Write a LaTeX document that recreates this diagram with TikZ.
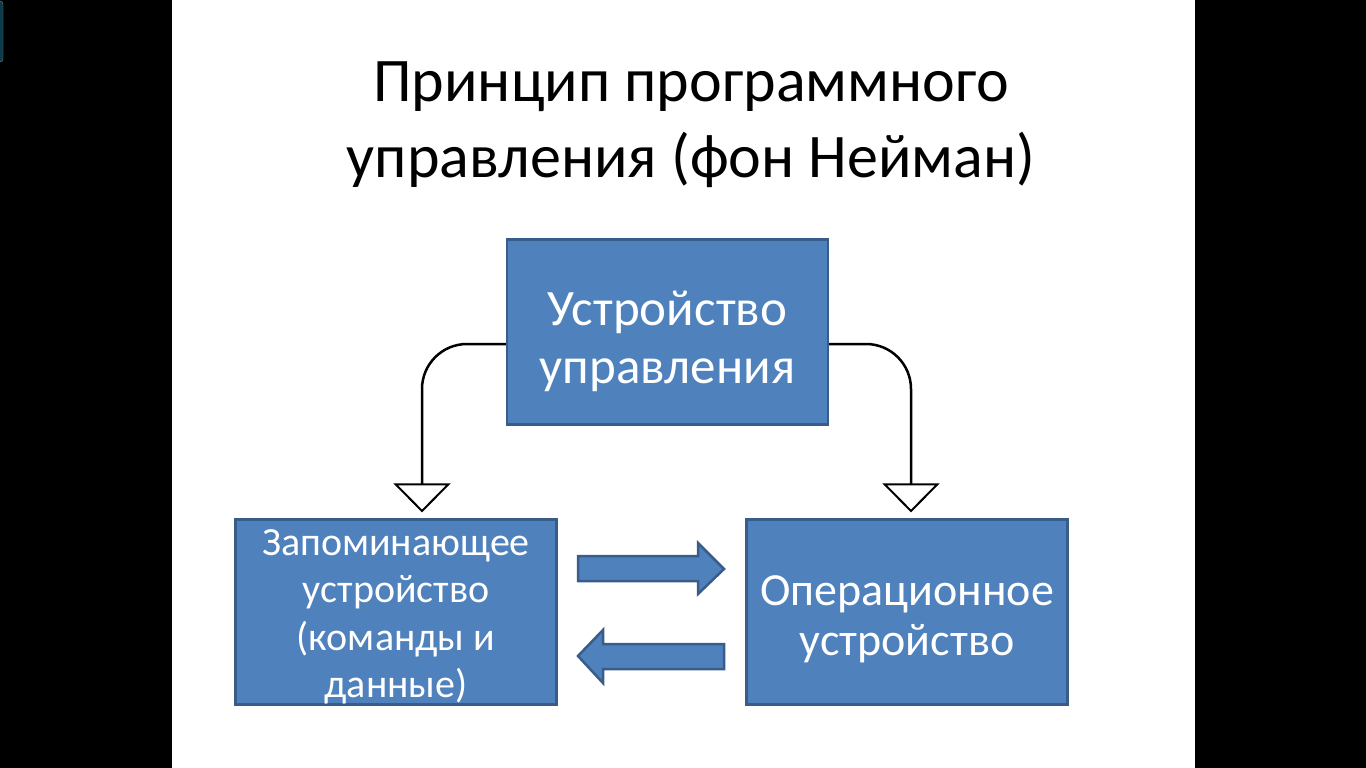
\documentclass[tikz,border=0pt]{standalone}
\usepackage{fontspec}
\setmainfont{Carlito}
\usetikzlibrary{arrows.meta,positioning}
\definecolor{boxblue}{HTML}{4F81BD}
\definecolor{boxline}{HTML}{385D8A}
\definecolor{tabteal}{HTML}{0B3A48}
\begin{document}
\begin{tikzpicture}[x=1pt,y=-1pt,
    unit/.style={draw=boxline, line width=2.2pt, fill=boxblue,
      minimum width=321pt, minimum height=185pt, inner sep=0pt},
    unittext/.style={text=white, align=center, inner sep=0pt},
    ctrl/.style={line width=2.5pt, rounded corners=45pt,
      -{Triangle[open, width=57pt, length=29pt, line width=2pt]}},
    blockarrow/.style={draw=boxline, line width=2.5pt, fill=boxblue}]
    % slide
    \useasboundingbox (0,0) rectangle (1366,768);
    \fill[black] (0,0) rectangle (1366,768);
    \fill[white] (172,0) rectangle (1195,768);
    \draw[gray, fill=tabteal, rounded corners=3pt] (-10,1) rectangle (3,62);
    % title
    \node[align=center, font=\fontsize{62}{76}\selectfont] (title) at (691,125)
      {Принцип программного\\управления (фон Нейман)};
    % units
    \node[unit, label={[unittext, yshift=-9pt, font=\fontsize{51}{58}\selectfont]center:{Устройство\\управления}}]
      (cu) at (667.5,332) {};
    \node[unit, label={[unittext, yshift=-5pt, font=\fontsize{40}{47.5}\selectfont]center:{Запоминающее\\устройство\\(команды и\\данные)}}]
      (mem) at (396,612) {};
    \node[unit, label={[unittext, yshift=-7pt, font=\fontsize{46}{50}\selectfont]center:{Операционное\\устройство}}]
      (ou) at (907,612) {};
    % control lines
    \draw[ctrl] ([yshift=-12pt]cu.west) -| ([xshift=26pt,yshift=6pt]mem.north);
    \draw[ctrl] ([yshift=-12pt]cu.east) -| ([xshift=4pt,yshift=6pt]ou.north);
    % data arrows
    \draw[blockarrow] (578,556) -- (698,556) -- (698,543) -- (724,569)
      -- (698,594) -- (698,581) -- (578,581) -- cycle;
    \draw[blockarrow] (724,644) -- (603,644) -- (603,630) -- (578,656)
      -- (603,683) -- (603,669) -- (724,669) -- cycle;
\end{tikzpicture}
\end{document}
